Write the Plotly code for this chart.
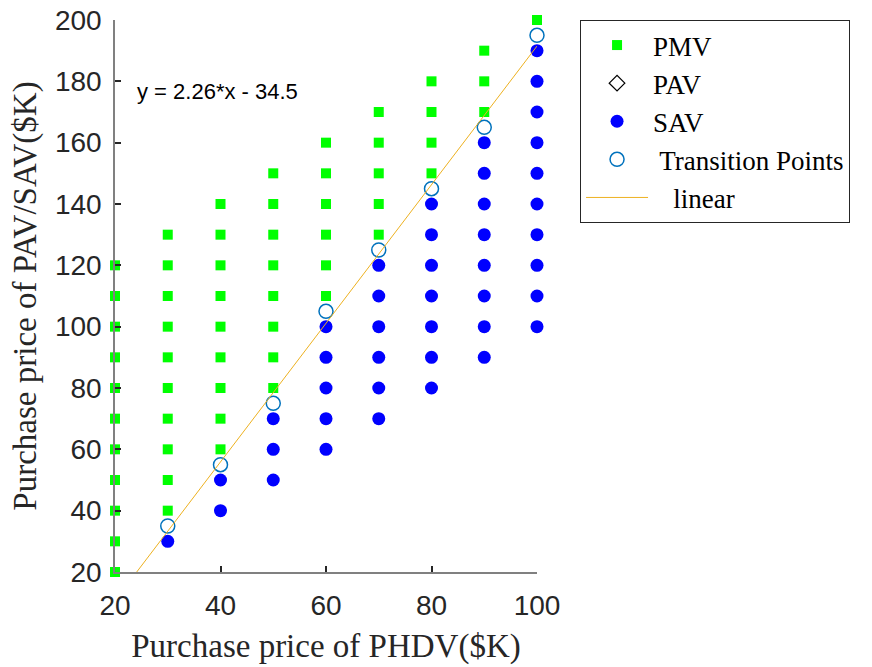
import plotly.graph_objects as go

# PMV (green squares)
pmv_x = [20]*11 + [30]*10 + [40]*9 + [50]*8 + [60]*6 + [70]*5 + [80]*4 + [90]*3 + [100]
pmv_y = (list(range(20, 121, 10)) + list(range(40, 131, 10)) + list(range(60, 141, 10))
         + list(range(80, 151, 10)) + list(range(110, 161, 10)) + list(range(130, 171, 10))
         + list(range(150, 181, 10)) + list(range(170, 191, 10)) + [200])

# SAV (blue circles)
sav_x = [30]*1 + [40]*2 + [50]*3 + [60]*5 + [70]*6 + [80]*7 + [90]*8 + [100]*10
sav_y = ([30] + [40, 50] + [50, 60, 70] + list(range(60, 101, 10)) + list(range(70, 121, 10))
         + list(range(80, 141, 10)) + list(range(90, 161, 10)) + list(range(100, 191, 10)))

# PAV (no visible points)
pav_x = [None]
pav_y = [None]

# Transition points
tr_x = [30, 40, 50, 60, 70, 80, 90, 100]
tr_y = [35, 55, 75, 105, 125, 145, 165, 195]

# Linear fit
slope = 2.26
intercept = -34.5
fit_x = [20, 100]
fit_y = [slope * v + intercept for v in fit_x]

fig = go.Figure()
fig.add_trace(go.Scatter(x=pmv_x, y=pmv_y, mode="markers", name="PMV",
                         marker=dict(symbol="square", size=10, color="#00FF00"),
                         cliponaxis=False))
fig.add_trace(go.Scatter(x=pav_x, y=pav_y, mode="markers", name="PAV",
                         marker=dict(symbol="diamond-open", size=12, color="black",
                                     line=dict(width=1.3))))
fig.add_trace(go.Scatter(x=sav_x, y=sav_y, mode="markers", name="SAV",
                         marker=dict(symbol="circle", size=13, color="#0000FF"),
                         cliponaxis=False))
fig.add_trace(go.Scatter(x=tr_x, y=tr_y, mode="markers", name=" Transition Points",
                         marker=dict(symbol="circle-open", size=14, color="#0072BD",
                                     line=dict(width=1.5)),
                         cliponaxis=False))
fig.add_trace(go.Scatter(x=fit_x, y=fit_y, mode="lines", name="   linear",
                         line=dict(color="#EDB120", width=1)))

fig.add_annotation(x=0.047, y=0.87, xref="paper", yref="paper", xanchor="left", yanchor="middle",
                   text="y = 2.26*x - 34.5", showarrow=False,
                   font=dict(family="Liberation Sans, Arial", size=22, color="#000000"))

axis_common = dict(showline=True, linecolor="#808080", linewidth=1.5, ticks="inside",
                   ticklen=6, tickcolor="#262626", tickwidth=1.5, showgrid=False, zeroline=False,
                   tickfont=dict(family="Liberation Sans, Arial", size=28, color="#262626"),
                   mirror=False)

fig.update_layout(
    width=872, height=667,
    margin=dict(l=115, r=335, t=20, b=95, autoexpand=False),
    plot_bgcolor="white", paper_bgcolor="white",
    xaxis=dict(range=[20, 100], tickvals=[20, 40, 60, 80, 100], ticklabelstandoff=8,
               title=dict(text="Purchase price of PHDV($K)", standoff=14,
                          font=dict(family="Liberation Serif, Times New Roman", size=33, color="#262626")),
               **axis_common),
    yaxis=dict(range=[20, 200], tickvals=list(range(20, 201, 20)), ticklabelstandoff=6,
               title=dict(text="Purchase price of PAV/SAV($K)", standoff=8,
                          font=dict(family="Liberation Serif, Times New Roman", size=33, color="#262626")),
               **axis_common),
    legend=dict(x=1.102, y=1.0, xanchor="left", yanchor="top",
                bordercolor="#262626", borderwidth=1, bgcolor="white",
                font=dict(family="Liberation Serif, Times New Roman", size=27, color="#000000"),
                tracegroupgap=0, itemsizing="trace", itemwidth=62),
    showlegend=True,
)

fig.write_html("out.html")
